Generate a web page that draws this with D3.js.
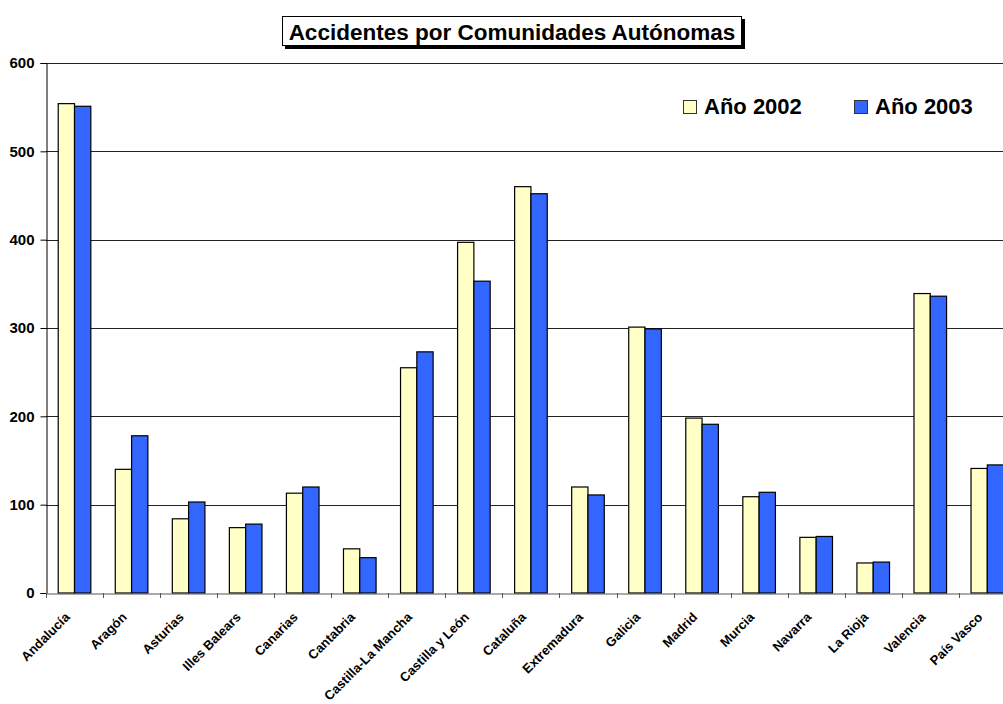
<!DOCTYPE html>
<html>
<head>
<meta charset="utf-8">
<script src="https://cdn.jsdelivr.net/npm/d3@7"></script>
<style>
  body { margin: 0; background: #fff; }
  svg { display: block; font-family: "Liberation Sans", Arial, sans-serif; font-weight: bold; }
</style>
</head>
<body>
<svg id="chart" width="1003" height="704"></svg>
<script>
const comunidades = ["Andalucía", "Aragón", "Asturias", "Illes Balears", "Canarias", "Cantabria",
  "Castilla-La Mancha", "Castilla y León", "Cataluña", "Extremadura", "Galicia", "Madrid",
  "Murcia", "Navarra", "La Rioja", "Valencia", "País Vasco"];
const series = ["Año 2002", "Año 2003"];
const valores2002 = [554, 140, 84, 74, 113, 50, 255, 397, 460, 120, 301, 198, 109, 63, 34, 339, 141];
const valores2003 = [551, 178, 103, 78, 120, 40, 273, 353, 452, 111, 299, 191, 114, 64, 35, 336, 145];
const yTicks = [0, 100, 200, 300, 400, 500, 600];
const colores = ["#FFFFC6", "#3366FF"];

const margin = { top: 63, left: 46, bottom: 111 };
const bandStep = 57.05;
const width = 1003, height = 704;
const plotRight = margin.left + bandStep * comunidades.length;
const plotBottom = height - margin.bottom;

const svg = d3.select("#chart");

const x0 = d3.scaleBand()
  .domain(comunidades)
  .range([margin.left, plotRight])
  .padding(0);

const gap = x0.bandwidth() * 0.75 / 3.5;
const x1 = d3.scaleBand()
  .domain(series)
  .range([gap, x0.bandwidth() - gap])
  .padding(0);

const y = d3.scaleLinear()
  .domain([0, 600])
  .range([plotBottom, margin.top]);

// gridlines
svg.append("g")
  .selectAll("line")
  .data(yTicks.filter(d => d > 0))
  .enter()
  .append("line")
  .attr("x1", margin.left)
  .attr("x2", plotRight)
  .attr("y1", d => Math.round(y(d)) + 0.5)
  .attr("y2", d => Math.round(y(d)) + 0.5)
  .attr("stroke", "#222")
  .attr("stroke-width", 1);

// bars
const rows = comunidades.map((c, i) => ({ c, vals: [valores2002[i], valores2003[i]] }));

svg.append("g")
  .selectAll("g")
  .data(rows)
  .enter()
  .append("g")
  .attr("transform", d => `translate(${x0(d.c)},0)`)
  .selectAll("rect")
  .data(d => d.vals.map((v, k) => ({ s: series[k], v, k })))
  .enter()
  .append("rect")
  .attr("x", d => x1(d.s))
  .attr("y", d => y(d.v))
  .attr("width", x1.bandwidth())
  .attr("height", d => plotBottom - y(d.v))
  .attr("fill", d => colores[d.k])
  .attr("stroke", "#000")
  .attr("stroke-width", 1.2);

// y axis
const yAxis = d3.axisLeft(y)
  .tickValues(yTicks)
  .tickSize(6)
  .tickPadding(6);

const gy = svg.append("g")
  .attr("transform", `translate(${margin.left + 0.5},0)`)
  .call(yAxis);
gy.select(".domain").attr("stroke", "#000");
gy.selectAll(".tick line").attr("stroke", "#000");
gy.selectAll(".tick text")
  .attr("font-size", 15)
  .attr("font-weight", "bold")
  .attr("font-family", "Liberation Sans, Arial, sans-serif")
  .attr("fill", "#000");

// x axis
const xAxis = d3.axisBottom(x0).tickSize(0).tickFormat("");
const gx = svg.append("g")
  .attr("transform", `translate(0,${plotBottom + 0.5})`)
  .call(xAxis);
gx.select(".domain").attr("stroke", "#555");

svg.append("g")
  .selectAll("line")
  .data(comunidades)
  .enter()
  .append("line")
  .attr("x1", d => Math.round(x0(d)) + 0.5)
  .attr("x2", d => Math.round(x0(d)) + 0.5)
  .attr("y1", plotBottom)
  .attr("y2", plotBottom + 5)
  .attr("stroke", "#555");

svg.append("g")
  .selectAll("text")
  .data(comunidades)
  .enter()
  .append("text")
  .attr("transform", d => `translate(${x0(d) + x0.bandwidth() / 2 - 4},${plotBottom + 25}) rotate(-45)`)
  .attr("text-anchor", "end")
  .attr("font-size", 13)
  .attr("fill", "#000")
  .text(d => d);

// title
const titleG = svg.append("g");
titleG.append("rect")
  .attr("x", 285).attr("y", 19)
  .attr("width", 460).attr("height", 30)
  .attr("fill", "#000");
titleG.append("rect")
  .attr("x", 282.5).attr("y", 16.5)
  .attr("width", 459).attr("height", 29)
  .attr("fill", "#fff")
  .attr("stroke", "#000");
titleG.append("text")
  .attr("x", 512).attr("y", 40)
  .attr("text-anchor", "middle")
  .attr("font-size", 22.5)
  .attr("fill", "#000")
  .text("Accidentes por Comunidades Autónomas");

// legend
const legendX = [683, 854];
const legend = svg.append("g");
legend.selectAll("rect")
  .data(series)
  .enter()
  .append("rect")
  .attr("x", (d, i) => legendX[i] + 0.5)
  .attr("y", 100.5)
  .attr("width", 13)
  .attr("height", 13)
  .attr("fill", (d, i) => colores[i])
  .attr("stroke", "#333");
legend.selectAll("text")
  .data(series)
  .enter()
  .append("text")
  .attr("x", (d, i) => legendX[i] + 21)
  .attr("y", 114)
  .attr("font-size", 22)
  .attr("fill", "#000")
  .text(d => d);
</script>
</body>
</html>
